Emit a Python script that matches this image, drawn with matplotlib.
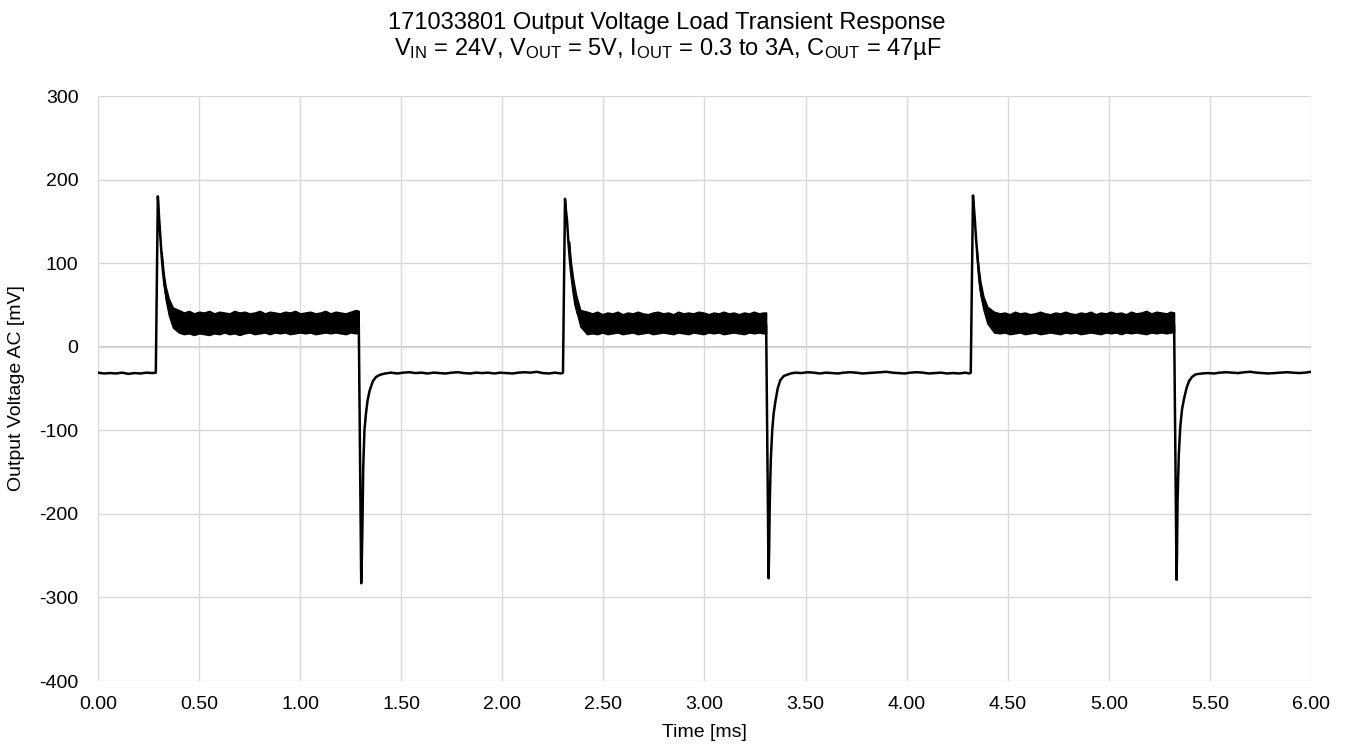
import matplotlib
matplotlib.use('Agg')
import matplotlib.pyplot as plt
from matplotlib import font_manager

# font: narrow sans if available
names = {f.name for f in font_manager.fontManager.ttflist}
FONT = 'Liberation Sans Narrow' if 'Liberation Sans Narrow' in names else 'Liberation Sans'
plt.rcParams['font.family'] = [FONT, 'DejaVu Sans']
plt.rcParams['mathtext.fontset'] = 'custom'
plt.rcParams['mathtext.rm'] = FONT
plt.rcParams['mathtext.it'] = FONT

# ---- trace (time in ms, voltage in mV) ----
time_ms = [
    0.00, 0.03, 0.06, 0.09, 0.12, 0.15, 0.18, 0.21, 0.24, 0.27, 0.286,
    0.296, 0.299, 0.302, 0.306, 0.311, 0.315, 0.320, 0.325, 0.330, 0.340,
    0.350, 0.360, 0.375, 0.400, 0.60, 0.80, 1.00, 1.20, 1.290,
    1.302, 1.305, 1.308, 1.312, 1.318, 1.325, 1.333, 1.343, 1.360, 1.376,
    1.396, 1.42, 1.45, 1.48, 1.51, 1.54, 1.57, 1.60, 1.63, 1.66, 1.69,
    1.72, 1.75, 1.78, 1.81, 1.84, 1.87, 1.90, 1.93, 1.96, 1.99, 2.02,
    2.05, 2.08, 2.11, 2.14, 2.17, 2.20, 2.23, 2.26, 2.29, 2.300,
    2.310, 2.314, 2.320, 2.326, 2.333, 2.339, 2.345, 2.353, 2.361, 2.373,
    2.386, 2.420, 2.60, 2.80, 3.00, 3.20, 3.305,
    3.317, 3.320, 3.323, 3.328, 3.335, 3.342, 3.351, 3.362, 3.375, 3.392,
    3.426, 3.45, 3.48, 3.51, 3.54, 3.57, 3.60, 3.63, 3.66, 3.69, 3.72,
    3.75, 3.78, 3.81, 3.84, 3.87, 3.90, 3.93, 3.96, 3.99, 4.02, 4.05,
    4.08, 4.11, 4.14, 4.17, 4.20, 4.23, 4.26, 4.29, 4.31, 4.317,
    4.328, 4.332, 4.337, 4.343, 4.350, 4.355, 4.360, 4.367, 4.375, 4.387,
    4.399, 4.432, 4.60, 4.80, 5.00, 5.20, 5.323,
    5.335, 5.337, 5.340, 5.346, 5.353, 5.362, 5.373, 5.385, 5.397, 5.412,
    5.430, 5.46, 5.49, 5.52, 5.55, 5.58, 5.61, 5.64, 5.67, 5.70, 5.73,
    5.76, 5.79, 5.82, 5.85, 5.88, 5.91, 5.94, 5.97, 6.00,
]
v_mv = [
    -31, -32, -31.5, -32, -31, -32.5, -31.5, -32, -31, -31.5, -31,
    180, 170, 155, 140, 122, 108, 94, 82, 72, 58,
    48, 40, 33, 29, 28, 28, 29, 28, 26,
    -283, -255, -215, -144, -100, -81, -65, -53, -41, -36,
    -33.5, -32, -31, -32, -31, -30.5, -31.5, -31, -32, -31, -31.5,
    -32, -31, -30.5, -31.5, -32, -31, -31.5, -31, -32, -31, -31.5,
    -32, -31, -30.5, -31, -30, -31.5, -32, -31, -32, -31,
    177, 165, 151, 128, 107, 92, 79, 64, 51, 40,
    33, 28, 28, 28, 29, 28, 26,
    -277, -240, -184, -135, -100, -80, -65, -50, -40, -35,
    -32, -31, -31.5, -30.5, -31, -32, -31, -31.5, -32, -31, -30.5,
    -31, -32, -31.5, -31, -30.5, -30, -31, -31.5, -32, -31, -30.5,
    -31, -32, -31.5, -31, -32, -31.5, -32, -31, -32, -31,
    181, 168, 153, 130, 109, 93, 79, 66, 57, 45,
    37, 29, 28, 28, 29, 28, 26,
    -279, -250, -184, -130, -97, -75, -61, -49, -41, -36,
    -33, -32, -31.5, -32, -31, -30.5, -31, -31.5, -30.5, -30, -31,
    -31.5, -32, -31.5, -31, -30.5, -31, -31.5, -31, -30,
]

# ripple envelope during the 3 A load steps (one list per step)
band_t = [
    [0.315, 0.325, 0.335, 0.350, 0.370, 0.400, 0.425, 0.450, 0.475, 0.500,
     0.525, 0.550, 0.575, 0.600, 0.625, 0.650, 0.675, 0.700, 0.725, 0.750,
     0.775, 0.800, 0.825, 0.850, 0.875, 0.900, 0.925, 0.950, 0.975, 1.000,
     1.025, 1.050, 1.075, 1.100, 1.125, 1.150, 1.175, 1.200, 1.225, 1.250,
     1.275, 1.290],
    [2.330, 2.340, 2.350, 2.365, 2.386, 2.419, 2.445, 2.470, 2.495, 2.520,
     2.545, 2.570, 2.595, 2.620, 2.645, 2.670, 2.695, 2.720, 2.745, 2.770,
     2.795, 2.820, 2.845, 2.870, 2.895, 2.920, 2.945, 2.970, 2.995, 3.020,
     3.045, 3.070, 3.095, 3.120, 3.145, 3.170, 3.195, 3.220, 3.245, 3.270,
     3.290, 3.305],
    [4.345, 4.355, 4.365, 4.380, 4.399, 4.432, 4.460, 4.485, 4.510, 4.535,
     4.560, 4.585, 4.610, 4.635, 4.660, 4.685, 4.710, 4.735, 4.760, 4.785,
     4.810, 4.835, 4.860, 4.885, 4.910, 4.935, 4.960, 4.985, 5.010, 5.035,
     5.060, 5.085, 5.110, 5.135, 5.160, 5.185, 5.210, 5.235, 5.260, 5.285,
     5.305, 5.323],
]
band_hi = [
    [114, 88, 72, 58, 47, 44, 41, 43, 40, 42, 41, 43, 40, 42, 41, 40, 43, 41,
     42, 40, 41, 43, 40, 42, 41, 40, 42, 41, 43, 40, 41, 42, 40, 41, 43, 40,
     42, 41, 40, 42, 44, 43],
    [126, 100, 82, 62, 44, 42, 40, 42, 39, 41, 40, 42, 39, 41, 40, 42, 40, 39,
     41, 42, 40, 41, 39, 42, 40, 41, 40, 42, 41, 39, 41, 40, 42, 40, 41, 39,
     41, 40, 42, 40, 41, 41],
    [120, 96, 78, 60, 48, 42, 40, 41, 39, 42, 40, 41, 39, 40, 42, 40, 39, 41,
     40, 42, 40, 39, 41, 40, 42, 39, 41, 40, 42, 40, 41, 39, 42, 40, 41, 43,
     40, 42, 41, 40, 42, 41],
]
band_lo = [
    [104, 76, 56, 38, 23, 17, 15, 16, 14, 16, 15, 14, 16, 15, 17, 15, 16, 14,
     16, 17, 15, 16, 17, 15, 17, 16, 17, 15, 16, 17, 16, 17, 15, 16, 17, 16,
     17, 16, 15, 17, 16, 17],
    [116, 88, 66, 44, 24, 15, 16, 15, 17, 15, 16, 17, 15, 16, 17, 15, 16, 17,
     15, 16, 17, 16, 15, 17, 16, 15, 17, 16, 15, 17, 16, 17, 15, 16, 17, 16,
     15, 17, 16, 17, 16, 16],
    [110, 84, 62, 44, 28, 17, 16, 17, 15, 16, 17, 15, 16, 17, 15, 16, 17, 16,
     15, 17, 16, 17, 15, 16, 17, 16, 15, 17, 16, 17, 15, 17, 16, 17, 16, 15,
     17, 16, 17, 16, 17, 17],
]

x_ticks = [0.0, 0.5, 1.0, 1.5, 2.0, 2.5, 3.0, 3.5, 4.0, 4.5, 5.0, 5.5, 6.0]
y_ticks = [-400, -300, -200, -100, 0, 100, 200, 300]

fig = plt.figure(figsize=(13.46, 7.55), dpi=100)
ax = fig.add_axes([0.0728, 0.098, 0.9012, 0.7748])

ax.plot(time_ms, v_mv, color='black', lw=1.8, solid_joinstyle='round', zorder=3)
for t, hi, lo in zip(band_t, band_hi, band_lo):
    ax.fill_between(t, lo, hi, color='black', lw=1.0, zorder=3)

ax.set_xlim(0, 6)
ax.set_ylim(-400, 300)
ax.set_xticks(x_ticks)
ax.set_xticklabels([f'{v:.2f}' for v in x_ticks])
ax.set_yticks(y_ticks)
ax.set_yticklabels([str(v) for v in y_ticks])
ax.grid(True, color='#d9d9d9', lw=1.0, zorder=0)
ax.axhline(0, color='#bfbfbf', lw=1.2, zorder=1)
for s in ax.spines.values():
    s.set_visible(False)
ax.tick_params(length=0, labelsize=14, colors='black')
ax.tick_params(axis='x', pad=11)
ax.tick_params(axis='y', pad=14)

ax.set_xlabel('Time [ms]', fontsize=14, labelpad=8)
ax.set_ylabel('Output Voltage AC [mV]', fontsize=14, labelpad=10)

fig.text(0.495, 0.970, '171033801 Output Voltage Load Transient Response',
         ha='center', va='center', fontsize=17)
fig.text(0.496, 0.935,
         r'V$_{\mathregular{IN}}$ = 24V, V$_{\mathregular{OUT}}$ = 5V, '
         r'I$_{\mathregular{OUT}}$ = 0.3 to 3A, C$_{\mathregular{OUT}}$ = 47µF',
         ha='center', va='center', fontsize=17)

fig.savefig('out.png', dpi=100)
